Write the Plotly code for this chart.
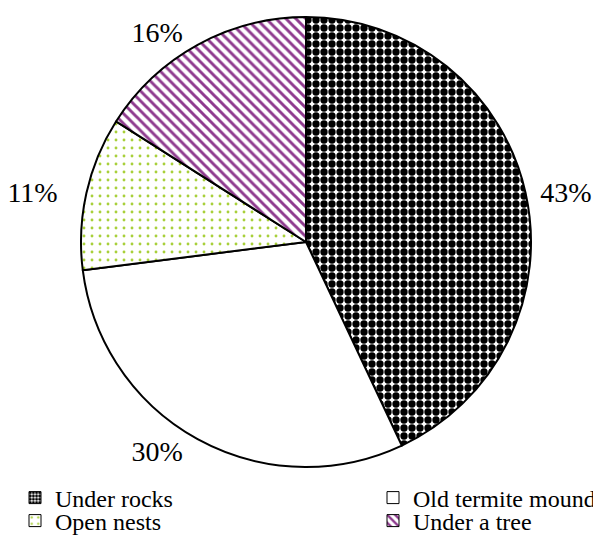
import plotly.graph_objects as go

labels = ["Under rocks", "Old termite mound", "Open nests", "Under a tree"]
values = [43, 30, 11, 16]

# page has an 8px body margin, so figure coords = screen coords - 8
W, H = 593, 529
cx, cy, r = 298, 234, 225

shapes_ = [".", "", ".", "\\"]
fgcols = ["black", "white", "#a8d03a", "#8e3a8e"]
sizes = [8, 8, 8, 7]
solid = [0.66, 0.1, 0.1, 0.42]

NB = "\u00a0"
label_fmt = [NB + "%{value}%", "%{value}%" + NB, "%{value}%" + NB * 3, "%{value}%" + NB]

fig = go.Figure()
fig.add_trace(go.Pie(
    labels=labels,
    values=values,
    sort=False,
    direction="clockwise",
    rotation=0,
    texttemplate=label_fmt,
    textposition="outside",
    textfont=dict(family="Liberation Serif", size=28, color="black"),
    marker=dict(
        colors=["white"] * 4,
        line=dict(color="black", width=2),
        pattern=dict(shape=shapes_, fgcolor=fgcols, bgcolor=["white"] * 4,
                     size=sizes, solidity=solid, fillmode="replace", fgopacity=1),
    ),
    domain=dict(x=[(cx - r) / W, (cx + r) / W], y=[(H - cy - r) / H, (H - cy + r) / H]),
    hoverinfo="skip",
    showlegend=False,
))

# legend entries (one legend each, arranged in 2 columns x 2 rows)
legend_ids = ["legend", "legend2", "legend3", "legend4"]
for i, lab in enumerate(labels):
    fig.add_trace(go.Bar(
        x=[None], y=[None], name=lab, legend=legend_ids[i],
        marker=dict(color="white", line=dict(color="black", width=1),
                    pattern=dict(shape=shapes_[i], fgcolor=fgcols[i], bgcolor="white",
                                 size=4 if i == 0 else sizes[i], solidity=solid[i],
                                 fillmode="replace", fgopacity=1)),
        showlegend=True, hoverinfo="skip",
    ))

col_x = [7 / W, 365 / W]
row_y = [1 - 490 / H, 1 - 513 / H]
leg_common = dict(xanchor="left", yanchor="middle", bgcolor="rgba(0,0,0,0)",
                  font=dict(family="Liberation Serif", size=24, color="black"),
                  itemwidth=30, borderwidth=0)

fig.update_layout(
    width=W, height=H,
    margin=dict(l=0, r=0, t=0, b=0, autoexpand=False),
    paper_bgcolor="white",
    plot_bgcolor="white",
    font=dict(family="Liberation Serif", size=24, color="black"),
    xaxis=dict(visible=False),
    yaxis=dict(visible=False),
    legend=dict(x=col_x[0], y=row_y[0], **leg_common),
    legend2=dict(x=col_x[1], y=row_y[0], **leg_common),
    legend3=dict(x=col_x[0], y=row_y[1], **leg_common),
    legend4=dict(x=col_x[1], y=row_y[1], **leg_common),
)

fig.write_html("out.html")
